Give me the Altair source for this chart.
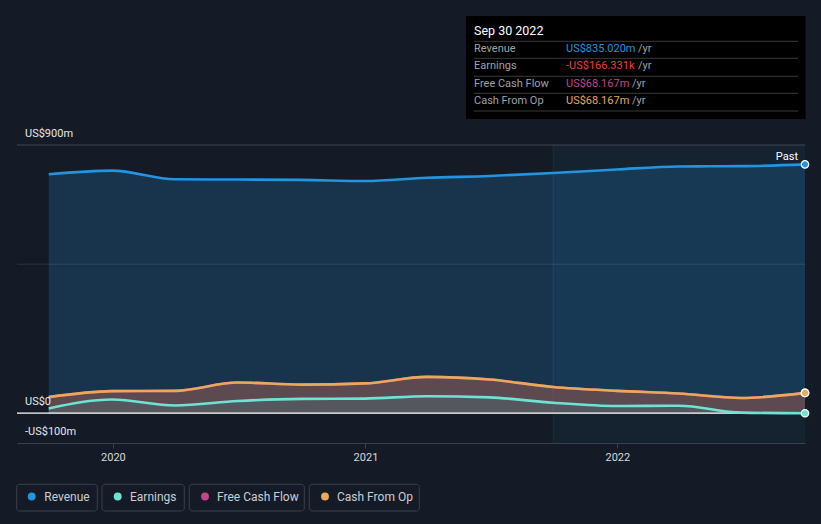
import altair as alt
import pandas as pd

# ---- data ----
dates = ["2019-09-30", "2019-12-31", "2020-03-31", "2020-06-30", "2020-09-30",
         "2020-12-31", "2021-03-31", "2021-06-30", "2021-09-30", "2021-12-31",
         "2022-03-31", "2022-06-30", "2022-09-30"]
revenue = [802, 814, 785, 784, 783, 779, 790, 796, 806, 818, 828, 829, 835.02]
earnings = [16, 46, 26, 41, 48, 49, 57, 53, 35, 24, 25, 2, -0.166]
free_cash_flow = [54, 74, 75, 103, 96, 100, 122, 113, 88, 75, 66, 51, 68.167]
cash_from_op = [54, 74, 75, 103, 96, 100, 122, 113, 88, 75, 66, 51, 68.167]

series_names = ["Revenue", "Earnings", "Free Cash Flow", "Cash From Op"]
series_colors = ["#2394df", "#6fe3d3", "#c3468a", "#e8a95a"]
tooltip_date = "Sep 30 2022"
tooltip_values = ["US$835.020m", "-US$166.331k", "US$68.167m", "US$68.167m"]
tooltip_value_colors = ["#2394df", "#e8413e", "#c3468a", "#e8a95a"]

y_tick_values = [900, 0, -100]
y_tick_labels = ["US$900m", "US$0", "-US$100m"]
grid_values = [900, 500]
past_start = "2021-09-30"
past_end = "2022-09-30"

df = pd.DataFrame({
    "date": dates,
    "Revenue": revenue,
    "Earnings": earnings,
    "FCF": free_cash_flow,
    "CFO": cash_from_op,
})
last = df.tail(1)

W, H = 788, 298
FONT = "Roboto"
BG = "#151b26"

xscale = alt.Scale(type="utc",
                   domain=[alt.DateTime(year=2019, month=8, date=15, utc=True),
                           alt.DateTime(year=2022, month=9, date=30, utc=True)])
yscale = alt.Scale(domain=[-100, 900], nice=False, zero=False)

X = alt.X("date:T", scale=xscale, title=None,
          axis=alt.Axis(values=[alt.DateTime(year=y, month=1, date=1, utc=True) for y in (2020, 2021, 2022)],
                        format="%Y", labelColor="#d6d9de", labelFontSize=11, labelFont=FONT,
                        domainColor="#3a414c", tickColor="#3a414c", tickSize=5,
                        labelPadding=3, grid=False))

base = alt.Chart(df)

# highlight region (past year)
hl = alt.Chart(pd.DataFrame({"s": [past_start], "e": [past_end]})).mark_rect(
    color="#2394df", opacity=0.06).encode(
    x=alt.X("s:T", scale=xscale), x2="e:T", y=alt.value(0), y2=alt.value(H))

rev_area = base.mark_area(color="#2394df", opacity=0.21, interpolate="monotone").encode(
    x=X, y=alt.Y("Revenue:Q", scale=yscale, axis=None), y2=alt.datum(0))
cfo_area = base.mark_area(color="#5d4a51", opacity=1, interpolate="monotone").encode(
    x=alt.X("date:T", scale=xscale), y=alt.Y("CFO:Q", scale=yscale), y2=alt.datum(0))
earn_area = base.mark_area(color="#54585e", opacity=1, interpolate="monotone").encode(
    x=alt.X("date:T", scale=xscale), y=alt.Y("Earnings:Q", scale=yscale), y2=alt.datum(0))

grid = alt.Chart(pd.DataFrame({"v": grid_values, "o": [0.18, 0.1]})).mark_rule(
    strokeWidth=1, color="#ffffff").encode(y=alt.Y("v:Q", scale=yscale),
                                           opacity=alt.Opacity("o:Q", scale=None))
zero = alt.Chart(pd.DataFrame({"v": [0]})).mark_rule(color="#ffffff", strokeWidth=1.2).encode(
    y=alt.Y("v:Q", scale=yscale))
divider = alt.Chart(pd.DataFrame({"d": [past_start]})).mark_rule(
    color="#ffffff", opacity=0.06).encode(x=alt.X("d:T", scale=xscale))

def line(field, color):
    return base.mark_line(color=color, strokeWidth=2.6, interpolate="monotone").encode(
        x=alt.X("date:T", scale=xscale), y=alt.Y(f"{field}:Q", scale=yscale))

def dot(field, color):
    return alt.Chart(last).mark_point(filled=True, fill=color, stroke="#ffffff",
                                      strokeWidth=1.3, size=55, opacity=1).encode(
        x=alt.X("date:T", scale=xscale), y=alt.Y(f"{field}:Q", scale=yscale))

lines = [line("Revenue", series_colors[0]), line("FCF", series_colors[2]),
         line("CFO", series_colors[3]), line("Earnings", series_colors[1])]
dots = [dot("Revenue", series_colors[0]), dot("FCF", series_colors[2]),
        dot("CFO", series_colors[3]), dot("Earnings", series_colors[1])]

past_label = alt.Chart(last).mark_text(text="Past", align="right", baseline="middle",
                                       dx=-7, dy=-7, color="#ffffff", fontSize=11, font=FONT).encode(
    x=alt.X("date:T", scale=xscale), y=alt.Y("Revenue:Q", scale=yscale))

ylabels = alt.Chart(pd.DataFrame({"v": y_tick_values, "t": y_tick_labels})).mark_text(
    align="left", baseline="alphabetic", dy=-8, color="#e6e8eb", fontSize=11, font=FONT).encode(
    x=alt.value(8), y=alt.Y("v:Q", scale=yscale), text="t:N")

one = alt.Chart(pd.DataFrame({"k": [0]}))

# tooltip box
tip = [one.mark_rect(color="#000000").encode(
    x=alt.value(449), x2=alt.value(788.7), y=alt.value(-129), y2=alt.value(-26))]
tip.append(one.mark_text(text=tooltip_date, align="left", baseline="middle", color="#ffffff",
                         fontSize=12.5, font=FONT).encode(
    x=alt.value(457), y=alt.value(-114)))
for yy in [-103.7, -86.7, -68.7, -51.7, -34]:
    tip.append(one.mark_rule(color="#3a3a3a", strokeWidth=1).encode(
        x=alt.value(457), x2=alt.value(781), y=alt.value(yy)))
row_y = [-95.7, -79, -61, -44.3]
yr_x = [621, 621, 615, 615]
for i in range(4):
    tip.append(one.mark_text(text=series_names[i], align="left", baseline="middle",
                             color="#9ea2a8", fontSize=11, font=FONT).encode(
        x=alt.value(457), y=alt.value(row_y[i])))
    tip.append(one.mark_text(text=tooltip_values[i], align="left", baseline="middle",
                             color=tooltip_value_colors[i], fontSize=11, font=FONT).encode(
        x=alt.value(549), y=alt.value(row_y[i])))
    tip.append(one.mark_text(text="/yr", align="left", baseline="middle",
                             color="#9ea2a8", fontSize=11, font=FONT).encode(
        x=alt.value(yr_x[i]), y=alt.value(row_y[i])))

# legend
leg = []
box_x = [(-0.3, 80.3), (85, 167.3), (172.3, 287.3), (292.3, 402.3)]
circ_x = [14.7, 100.7, 188, 308]
text_x = [27.3, 113, 200, 320]
for i in range(4):
    leg.append(one.mark_rect(fill=BG, stroke="#3a404b", strokeWidth=1, cornerRadius=3).encode(
        x=alt.value(box_x[i][0]), x2=alt.value(box_x[i][1]), y=alt.value(339.3), y2=alt.value(366)))
    leg.append(one.mark_point(filled=True, color=series_colors[i], size=62, opacity=1).encode(
        x=alt.value(circ_x[i]), y=alt.value(351.5)))
    leg.append(one.mark_text(text=series_names[i], align="left", baseline="middle",
                             color="#c9cdd3", fontSize=12, font=FONT).encode(
        x=alt.value(text_x[i]), y=alt.value(351.5)))

chart = alt.layer(
    hl, rev_area, cfo_area, earn_area, grid, zero, divider,
    *lines, *dots, past_label, ylabels, *tip, *leg
).properties(
    width=W, height=H,
    background=BG,
    padding={"left": 17, "top": 145, "right": 16, "bottom": 81},
    autosize=alt.AutoSizeParams(type="none"),
).configure_view(stroke=None)

chart.save("out.html", embed_options={"renderer": "svg", "actions": False})
